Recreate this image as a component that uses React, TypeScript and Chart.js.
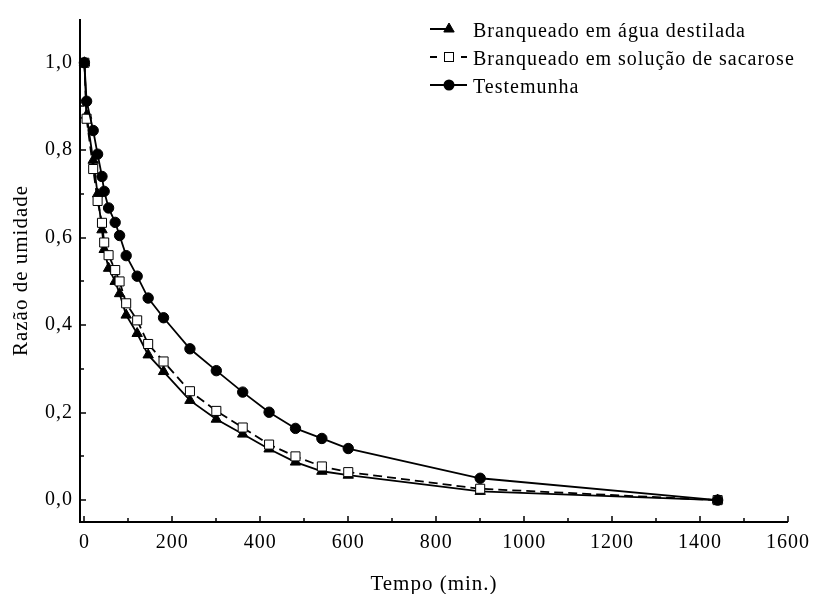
import React, { useEffect, useRef } from 'react';
import { Chart, registerables } from 'chart.js';

Chart.register(...registerables);

// ---- Data ----
const times = [0, 5, 20, 30, 40, 45, 55, 70, 80, 95, 120, 145, 180, 240, 300, 360, 420, 480, 540, 600, 900, 1440];
const aguaDestilada = [1.0, 0.88, 0.777, 0.70, 0.618, 0.573, 0.530, 0.50, 0.472, 0.423, 0.381, 0.332, 0.294, 0.228, 0.185, 0.151, 0.117, 0.087, 0.066, 0.057, 0.020, 0.0];
const sacarose = [1.0, 0.872, 0.757, 0.684, 0.634, 0.589, 0.560, 0.526, 0.500, 0.450, 0.411, 0.357, 0.317, 0.249, 0.204, 0.166, 0.127, 0.100, 0.077, 0.064, 0.026, 0.0];
const testemunha = [1.0, 0.912, 0.845, 0.791, 0.740, 0.706, 0.668, 0.635, 0.605, 0.559, 0.512, 0.462, 0.417, 0.346, 0.296, 0.247, 0.201, 0.164, 0.141, 0.118, 0.050, 0.0];

const seriesLabels = ['Branqueado em água destilada', 'Branqueado em solução de sacarose', 'Testemunha'];
const xTitle = 'Tempo (min.)';
const yTitle = 'Razão de umidade';

const xMajorTicks = [0, 200, 400, 600, 800, 1000, 1200, 1400, 1600];
const xMinorTicks = [100, 300, 500, 700, 900, 1100, 1300, 1500];
const yMajorTicks = [0, 0.2, 0.4, 0.6, 0.8, 1.0];
const yMinorTicks = [0.1, 0.3, 0.5, 0.7, 0.9];

const FAMILY = '"Liberation Serif", "Times New Roman", serif';
const FONT20 = `20px ${FAMILY}`;

const spacingPlugin = {
  id: 'letterSpacing',
  beforeDraw(chart: any) {
    chart.ctx.letterSpacing = '1px';
  },
};

const axesPlugin = {
  id: 'axesTicks',
  afterDraw(chart: any) {
    const { ctx, chartArea: a, scales } = chart;
    const x = scales.x;
    const y = scales.y;
    ctx.save();
    ctx.strokeStyle = '#000';
    ctx.setLineDash([]);
    ctx.lineWidth = 2;
    ctx.beginPath();
    ctx.moveTo(a.left, a.top);
    ctx.lineTo(a.left, a.bottom);
    ctx.lineTo(a.right, a.bottom);
    ctx.stroke();
    ctx.lineWidth = 1.5;
    ctx.beginPath();
    xMajorTicks.forEach((v) => {
      const px = Math.round(x.getPixelForValue(v));
      ctx.moveTo(px, a.bottom);
      ctx.lineTo(px, a.bottom - 6);
    });
    xMinorTicks.forEach((v) => {
      const px = Math.round(x.getPixelForValue(v));
      ctx.moveTo(px, a.bottom);
      ctx.lineTo(px, a.bottom - 4);
    });
    yMajorTicks.forEach((v) => {
      const py = Math.round(y.getPixelForValue(v));
      ctx.moveTo(a.left, py);
      ctx.lineTo(a.left + 6, py);
    });
    yMinorTicks.forEach((v) => {
      const py = Math.round(y.getPixelForValue(v));
      ctx.moveTo(a.left, py);
      ctx.lineTo(a.left + 4, py);
    });
    ctx.stroke();
    ctx.restore();
  },
};

function drawTriangle(ctx: CanvasRenderingContext2D, x: number, y: number, r: number) {
  ctx.beginPath();
  let rad = 0;
  for (let i = 0; i < 3; i++) {
    const px = x + Math.sin(rad) * r;
    const py = y - Math.cos(rad) * r;
    if (i === 0) ctx.moveTo(px, py);
    else ctx.lineTo(px, py);
    rad += (2 * Math.PI) / 3;
  }
  ctx.closePath();
  ctx.fill();
  ctx.stroke();
}

const legendPlugin = {
  id: 'customLegend',
  afterDraw(chart: any) {
    const ctx: CanvasRenderingContext2D = chart.ctx;
    const baselines = [37, 65, 93];
    const lineStart = 430;
    const markerX = 449;
    const textX = 473;
    ctx.save();
    (ctx as any).letterSpacing = '1px';
    ctx.font = FONT20;
    ctx.fillStyle = '#000';
    ctx.strokeStyle = '#000';
    ctx.textBaseline = 'alphabetic';
    ctx.textAlign = 'left';
    chart.data.datasets.forEach((ds: any, i: number) => {
      const b = baselines[i];
      const cy = b - 8;
      ctx.lineWidth = 2;
      ctx.setLineDash([]);
      ctx.beginPath();
      if (i === 0) {
        ctx.moveTo(lineStart, cy);
        ctx.lineTo(markerX, cy);
      } else if (i === 1) {
        ctx.moveTo(lineStart, cy);
        ctx.lineTo(lineStart + 7, cy);
        ctx.moveTo(markerX + 12, cy);
        ctx.lineTo(markerX + 18, cy);
      } else {
        ctx.moveTo(lineStart, cy);
        ctx.lineTo(markerX + 18, cy);
      }
      ctx.stroke();
      ctx.lineWidth = 1;
      if (i === 0) {
        ctx.fillStyle = '#000';
        drawTriangle(ctx, markerX, cy, 6);
      } else if (i === 1) {
        ctx.fillStyle = '#fff';
        ctx.fillRect(markerX - 4.5, cy - 4.5, 9, 9);
        ctx.strokeRect(markerX - 4.5, cy - 4.5, 9, 9);
      } else {
        ctx.fillStyle = '#000';
        ctx.beginPath();
        ctx.arc(markerX, cy, 5.5, 0, Math.PI * 2);
        ctx.fill();
      }
      ctx.fillStyle = '#000';
      ctx.fillText(ds.label, textX, b);
    });
    ctx.restore();
  },
};

function toPoints(vals: number[]) {
  return times.map((t, i) => ({ x: t, y: vals[i] }));
}

export default function App() {
  const canvasRef = useRef<HTMLCanvasElement | null>(null);

  useEffect(() => {
    if (!canvasRef.current) return;
    const chart = new Chart(canvasRef.current, {
      type: 'line',
      data: {
        datasets: [
          {
            label: seriesLabels[0],
            data: toPoints(aguaDestilada),
            borderColor: '#000',
            backgroundColor: '#000',
            borderWidth: 1.8,
            pointStyle: 'triangle',
            pointRadius: 6,
            pointBorderWidth: 1,
            pointBackgroundColor: '#000',
            pointBorderColor: '#000',
            tension: 0,
            order: 2,
            clip: false as any,
          },
          {
            label: seriesLabels[1],
            data: toPoints(sacarose),
            borderColor: '#000',
            backgroundColor: '#fff',
            borderWidth: 1.8,
            borderDash: [9, 5],
            pointStyle: 'rect',
            pointRadius: 6.4,
            pointBorderWidth: 1,
            pointBackgroundColor: '#fff',
            pointBorderColor: '#000',
            tension: 0,
            order: 1,
            clip: false as any,
          },
          {
            label: seriesLabels[2],
            data: toPoints(testemunha),
            borderColor: '#000',
            backgroundColor: '#000',
            borderWidth: 1.8,
            pointStyle: 'circle',
            pointRadius: 5.2,
            pointBorderWidth: 1,
            pointBackgroundColor: '#000',
            pointBorderColor: '#000',
            tension: 0,
            order: 0,
            clip: false as any,
          },
        ],
      },
      options: {
        responsive: false,
        animation: false,
        devicePixelRatio: 1,
        layout: { padding: { top: 14, right: 25, left: 0, bottom: 0 } },
        plugins: {
          legend: { display: false },
          tooltip: { enabled: false },
        },
        scales: {
          x: {
            type: 'linear',
            min: -10,
            max: 1600,
            grid: { display: false, drawTicks: false },
            border: { display: false },
            afterBuildTicks: (scale: any) => {
              scale.ticks = xMajorTicks.map((v) => ({ value: v }));
            },
            afterFit: (scale: any) => {
              scale.height = 72;
            },
            ticks: {
              padding: 9,
              color: '#000',
              font: { family: FAMILY, size: 20 },
              maxRotation: 0,
              autoSkip: false,
              callback: (v: any) => String(v),
            },
            title: {
              display: true,
              text: xTitle,
              color: '#000',
              font: { family: FAMILY, size: 21, lineHeight: 1 },
              padding: { top: 0, bottom: -1 },
            },
          },
          y: {
            type: 'linear',
            min: -0.05,
            max: 1.1,
            grid: { display: false, drawTicks: false },
            border: { display: false },
            afterBuildTicks: (scale: any) => {
              scale.ticks = yMajorTicks.map((v) => ({ value: v }));
            },
            afterFit: (scale: any) => {
              scale.width = 80;
            },
            ticks: {
              padding: 7,
              color: '#000',
              font: { family: FAMILY, size: 20 },
              autoSkip: false,
              callback: (v: any) => Number(v).toFixed(1).replace('.', ','),
            },
            title: {
              display: true,
              text: yTitle,
              color: '#000',
              font: { family: FAMILY, size: 21, lineHeight: 1 },
              padding: { top: 11, bottom: 0 },
            },
          },
        },
      },
      plugins: [spacingPlugin, axesPlugin, legendPlugin],
    });
    return () => chart.destroy();
  }, []);

  return (
    <div style={{ position: 'absolute', left: 0, top: 0, width: 817, height: 594, background: '#fff' }}>
      <canvas ref={canvasRef} width={817} height={594} style={{ display: 'block' }} />
    </div>
  );
}
